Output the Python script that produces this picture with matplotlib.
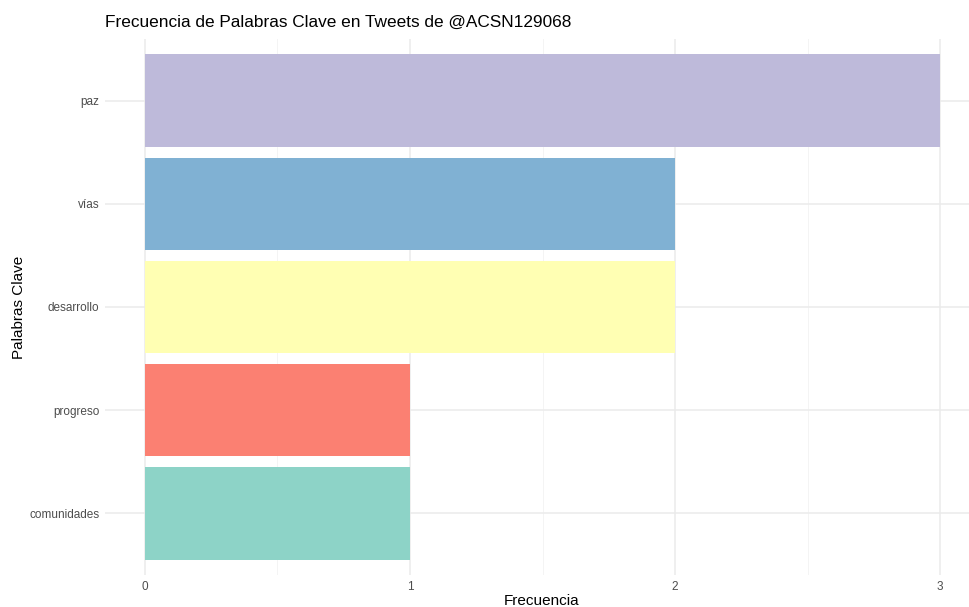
import matplotlib
matplotlib.use("Agg")
import matplotlib.pyplot as plt
from matplotlib.ticker import MultipleLocator

plt.rcParams['font.family'] = ['Liberation Sans', 'DejaVu Sans']

categories = ["comunidades", "progreso", "desarrollo", "vías", "paz"]
values = [1, 1, 2, 2, 3]
colors = ["#8DD3C7", "#FB8072", "#FFFFB3", "#80B1D3", "#BEBADA"]

fig = plt.figure(figsize=(9.69, 6.07), dpi=100)
ax = fig.add_axes([105/969, 32/607, 875/969, 536/607])

pos = list(range(1, len(categories) + 1))
ax.barh(pos, values, height=0.9, color=colors, zorder=2)

ax.set_xlim(-0.15, 3.15)
ax.set_ylim(0.4, len(categories) + 0.6)
ax.set_yticks(pos)
ax.set_yticklabels(categories)
ax.xaxis.set_major_locator(MultipleLocator(1))
ax.xaxis.set_minor_locator(MultipleLocator(0.5))

ax.grid(True, which='major', color='#EBEBEB', linewidth=1.1, zorder=0)
ax.grid(True, which='minor', axis='x', color='#F2F2F2', linewidth=0.6, zorder=0)
ax.set_axisbelow(True)
for s in ax.spines.values():
    s.set_visible(False)
ax.tick_params(which='both', length=0, labelsize=8.5, labelcolor='#4D4D4D', pad=4)

fig.text(542/969, 1 - 601/607, "Frecuencia", fontsize=11, ha='center', va='center')
fig.text(19/969, 1 - 307/607, "Palabras Clave", fontsize=11, ha='center', va='center',
         rotation=90)
fig.text(105/969, 1 - 22/607, "Frecuencia de Palabras Clave en Tweets de @ACSN129068",
         fontsize=12.4, va='center', ha='left')

fig.savefig("out.png", dpi=100)
